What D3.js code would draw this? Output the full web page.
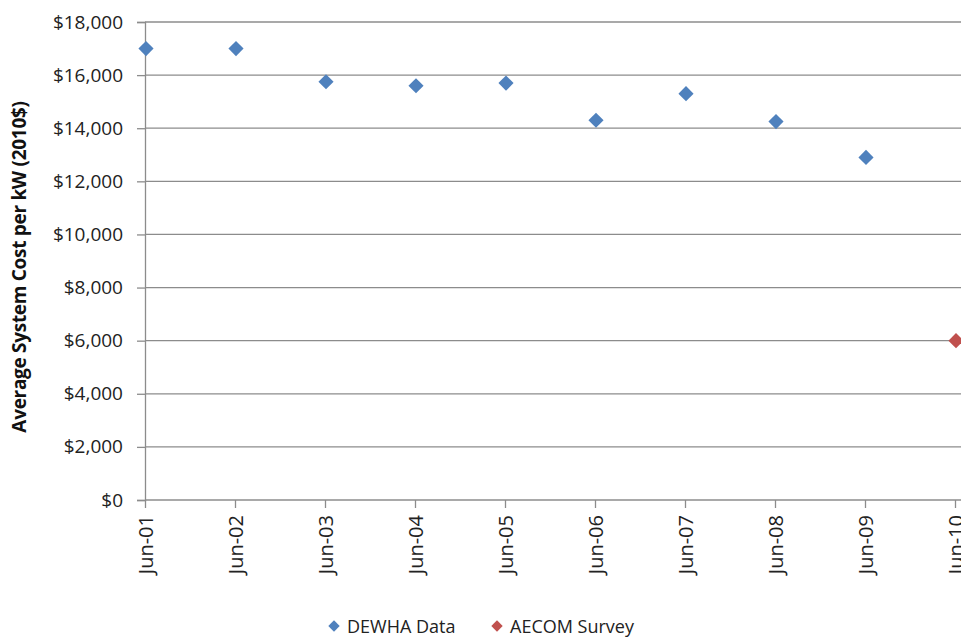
<!DOCTYPE html>
<html><head><meta charset="utf-8">
<script src="https://cdn.jsdelivr.net/npm/d3@7"></script>
<style>body{margin:0;background:#fff}svg{display:block}</style>
</head><body>
<svg id="c" width="961" height="637"></svg>
<script>
const categories = ["Jun-01","Jun-02","Jun-03","Jun-04","Jun-05","Jun-06","Jun-07","Jun-08","Jun-09","Jun-10"];
const dewhaValues = [17000,17000,15750,15600,15700,14300,15300,14250,12900,null];
const aecomValues = [null,null,null,null,null,null,null,null,null,6000];
const yTicks = [0,2000,4000,6000,8000,10000,12000,14000,16000,18000];
const seriesNames = ["DEWHA Data","AECOM Survey"];
const colors = ["#4F81BD","#C0504D"];

(function(){
const svg = d3.select("#c");
const font = "'Open Sans', sans-serif";
const mLeft = 145, mRight = 955, mTop = 22, mBottom = 500;

const x = d3.scalePoint().domain(categories).range([mLeft, mRight]).padding(0);
const y = d3.scaleLinear().domain([0,18000]).range([mBottom, mTop]);

// gridlines
svg.append("g").selectAll("line").data(yTicks.slice(1)).join("line")
  .attr("x1", mLeft).attr("x2", 961)
  .attr("y1", d=>y(d)).attr("y2", d=>y(d))
  .attr("stroke","#8c8c8c").attr("stroke-width",1.3);

// y axis
const ya = svg.append("g").attr("transform",`translate(${mLeft},0)`)
  .call(d3.axisLeft(y).tickValues(yTicks).tickSize(8).tickPadding(14)
    .tickFormat(d=>"$"+d3.format(",")(d)));
ya.select(".domain").attr("stroke","#8c8c8c").attr("stroke-width",1.3);
ya.selectAll(".tick line").attr("stroke","#8c8c8c").attr("stroke-width",1.3);
ya.selectAll("text").attr("font-family",font).attr("font-size",19).attr("fill","#222");

// x axis
const xa = svg.append("g").attr("transform",`translate(0,${mBottom})`)
  .call(d3.axisBottom(x).tickSize(8).tickSizeOuter(0));
xa.select(".domain").attr("stroke","#8c8c8c").attr("stroke-width",1.3).attr("d",`M${mLeft},0H961`);
xa.selectAll(".tick line").attr("stroke","#8c8c8c").attr("stroke-width",1.3);
xa.selectAll("text").attr("font-family",font).attr("font-size",20).attr("fill","#222")
  .attr("transform","rotate(-90)").attr("text-anchor","end")
  .attr("x",-15).attr("y",0).attr("dy","0.35em");

// y title
svg.append("text").attr("transform",`translate(26,${(92+442)/2}) rotate(-90)`)
  .attr("text-anchor","middle").attr("font-family",font).attr("font-weight","bold")
  .attr("font-size",19).attr("letter-spacing","-0.3").attr("fill","#111").text("Average System Cost per kW (2010$)");

function drawPts(vals, color){
  svg.append("g").selectAll("path").data(vals.map((v,i)=>({v,c:categories[i]})).filter(d=>d.v!=null))
    .join("path").attr("d", d3.symbol().type(d3.symbolSquare).size(115)())
    .attr("transform", d=>`translate(${x(d.c)+1},${y(d.v)}) rotate(45)`)
    .attr("fill", color);
}
drawPts(dewhaValues, colors[0]);
drawPts(aecomValues, colors[1]);

// legend
const legX = [334, 497];
seriesNames.forEach((n,i)=>{
  svg.append("path").attr("d", d3.symbol().type(d3.symbolSquare).size(65)())
    .attr("transform",`translate(${legX[i]},626) rotate(45)`).attr("fill",colors[i]);
  svg.append("text").attr("x",legX[i]+13).attr("y",627).attr("dy","0.35em")
    .attr("font-family",font).attr("font-size",18).attr("fill","#222").text(n);
});
})();
</script>
</body></html>
